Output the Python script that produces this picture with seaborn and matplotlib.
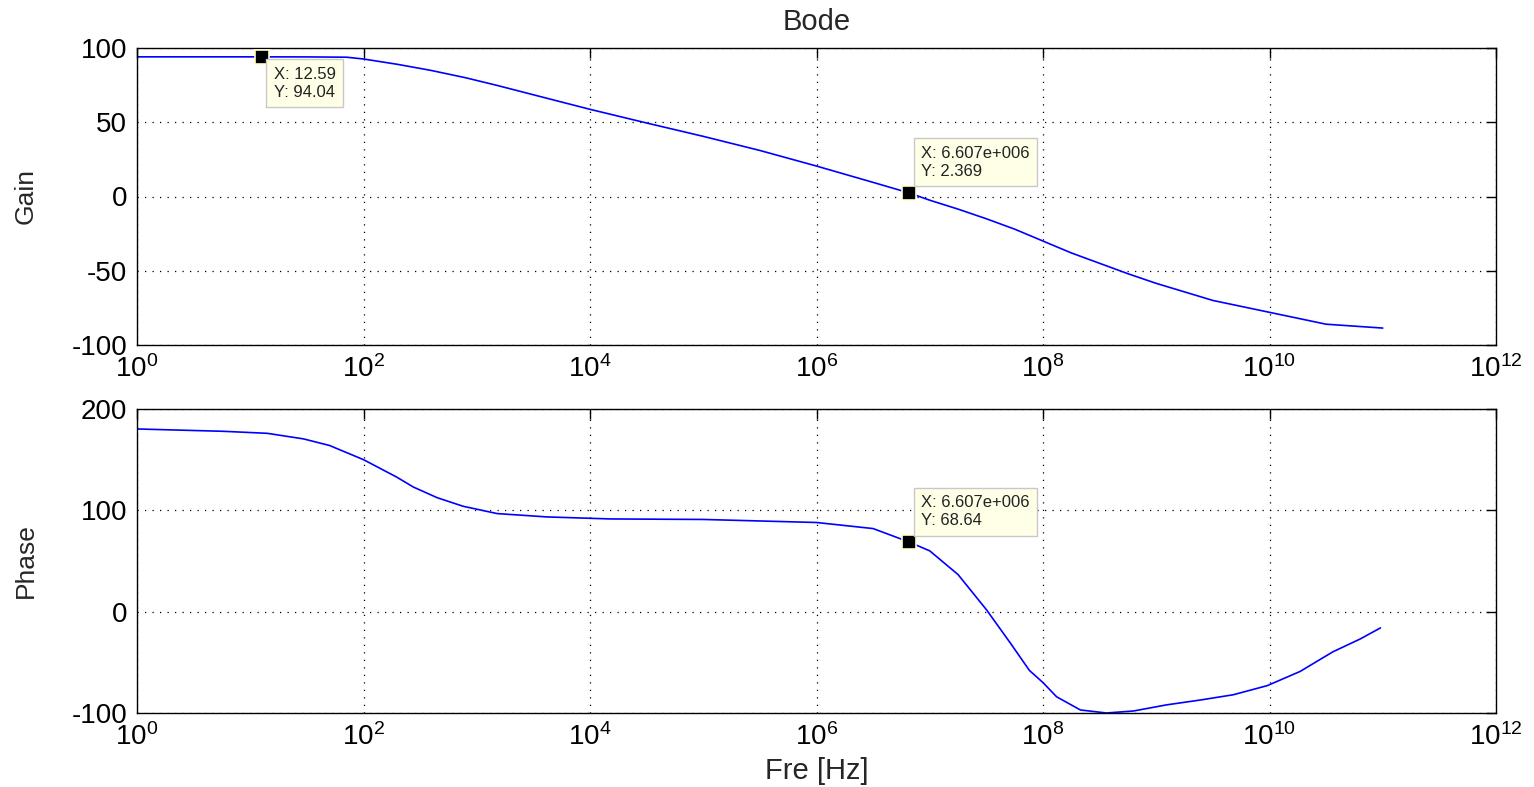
import numpy as np
import pandas as pd
import matplotlib
matplotlib.use("Agg")
import matplotlib.pyplot as plt
import seaborn as sns

# Frequency response samples (log10 of frequency in Hz)
gain_logf = [0.0, 1.0, 1.1, 1.5, 1.85, 2.0, 2.3, 2.59, 2.9, 3.18, 3.5, 4.0, 4.5, 5.0,
             5.5, 6.0, 6.5, 6.82, 7.0, 7.25, 7.5, 7.75, 8.0, 8.25, 8.5, 8.75, 9.0,
             9.5, 10.0, 10.5, 11.0]
gain_db = [94.04, 94.04, 94.04, 94.0, 93.8, 92.6, 89.0, 85.0, 80.0, 74.8, 68.5, 58.7,
           49.5, 40.5, 31.0, 20.5, 9.5, 2.369, -2.5, -8.5, -15.0, -22.0, -30.0,
           -38.0, -45.0, -52.0, -58.5, -70.0, -78.0, -86.0, -88.6]

phase_logf = [0.0, 0.76, 1.15, 1.47, 1.70, 2.0, 2.29, 2.44, 2.65, 2.88, 3.18, 3.62,
              4.18, 5.0, 6.0, 6.5, 6.82, 7.0, 7.25, 7.5, 7.71, 7.88, 8.0, 8.12, 8.33,
              8.56, 8.8, 9.09, 9.4, 9.68, 9.98, 10.27, 10.56, 10.8, 10.98]
phase_deg = [180.3, 178.0, 176.0, 170.5, 164.0, 150.0, 133.0, 123.0, 112.5, 104.0,
             96.8, 93.5, 91.5, 91.0, 88.0, 82.0, 68.64, 60.0, 36.6, 2.0, -30.7,
             -58.0, -70.0, -84.0, -97.0, -100.0, -98.0, -92.0, -87.0, -82.0, -73.0,
             -59.0, -39.6, -27.0, -16.0]

# Data tips shown on the curves
tip_freq = [12.59, 6.607e6, 6.607e6]
tip_value = [94.04, 2.369, 68.64]
tip_text = ["X: 12.59\nY: 94.04", "X: 6.607e+006\nY: 2.369", "X: 6.607e+006\nY: 68.64"]

x_ticks = [1e0, 1e2, 1e4, 1e6, 1e8, 1e10, 1e12]
x_tick_labels = ["$10^{0}$", "$10^{2}$", "$10^{4}$", "$10^{6}$", "$10^{8}$",
                 "$10^{10}$", "$10^{12}$"]
gain_ticks = [-100, -50, 0, 50, 100]
phase_ticks = [-100, 0, 100, 200]

gain_df = pd.DataFrame({"f": np.power(10.0, gain_logf), "v": gain_db})
phase_df = pd.DataFrame({"f": np.power(10.0, phase_logf), "v": phase_deg})

sns.set_style("white")
plt.rcParams["font.family"] = ["Liberation Sans", "DejaVu Sans"]
plt.rcParams["mathtext.fontset"] = "custom"
plt.rcParams["mathtext.rm"] = "Liberation Sans"
plt.rcParams["mathtext.it"] = "Liberation Sans"
plt.rcParams["axes.unicode_minus"] = False

fig = plt.figure(figsize=(15.34, 7.87), dpi=100)
W, H = 1534, 787
left, right = 137, 1496
ax_gain = fig.add_axes([left / W, 1 - 345 / H, (right - left) / W, (345 - 48) / H])
ax_phase = fig.add_axes([left / W, 1 - 713 / H, (right - left) / W, (713 - 409) / H])

line_kw = dict(color="#0000ff", linewidth=1.2)
sns.lineplot(data=gain_df, x="f", y="v", ax=ax_gain, **line_kw)
sns.lineplot(data=phase_df, x="f", y="v", ax=ax_phase, **line_kw)

for ax, yticks, ylim, ylabel in [
    (ax_gain, gain_ticks, (-100, 100), "Gain"),
    (ax_phase, phase_ticks, (-100, 200), "Phase"),
]:
    ax.set_xscale("log")
    ax.set_xlim(1e0, 1e12)
    ax.set_ylim(*ylim)
    ax.set_xticks(x_ticks)
    ax.set_xticklabels(x_tick_labels)
    ax.xaxis.set_minor_locator(matplotlib.ticker.NullLocator())
    ax.set_yticks(yticks)
    ax.tick_params(axis="both", which="major", direction="in", length=7, width=1,
                   color="black", labelsize=20, top=True, right=True,
                   labelcolor="black")
    ax.tick_params(axis="x", pad=7)
    ax.tick_params(axis="y", pad=7)
    ax.grid(True, which="major", color="black", linestyle=(0, (1, 5)), linewidth=0.9)
    for s in ax.spines.values():
        s.set_color("black")
        s.set_linewidth(1.0)
        s.set_visible(True)
    ax.set_ylabel(ylabel, fontsize=19)
    ax.yaxis.set_label_coords(-0.073, 0.5)
    ax.set_xlabel("")

ax_gain.set_title("Bode", fontsize=21, pad=13)
ax_phase.set_xlabel("Fre [Hz]", fontsize=21)
ax_phase.xaxis.set_label_coords(0.5, -0.145)

# Data tip markers and boxes
tip_axes = [ax_gain, ax_gain, ax_phase]
tip_offsets = [(12, -10), (12, 14), (12, 14)]
tip_va = ["top", "bottom", "bottom"]
for ax, f, v, txt, off, va in zip(tip_axes, tip_freq, tip_value, tip_text,
                                  tip_offsets, tip_va):
    ax.plot([f], [v], marker="s", markersize=9.5, color="black",
            markeredgecolor="#ffffcc", markeredgewidth=1.2, zorder=5)
    ax.annotate(txt, xy=(f, v), xytext=off, textcoords="offset pixels",
                ha="left", va=va, fontsize=12, linespacing=1.25, color="#222222",
                bbox=dict(boxstyle="square,pad=0.45", fc="#ffffe8", ec="#c8c8c8",
                          lw=1.0), zorder=6)

fig.savefig("out.png", dpi=100)
